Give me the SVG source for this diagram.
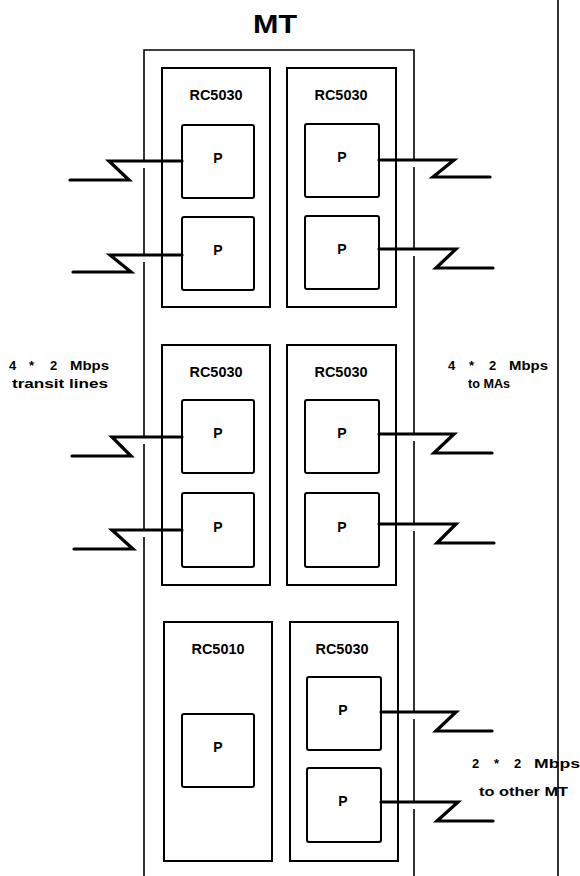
<svg xmlns="http://www.w3.org/2000/svg" width="580" height="876" viewBox="0 0 580 876">
<style>
.bg{fill:#fff}
.rc{fill:none;stroke:#000;stroke-width:2}
.p{fill:none;stroke:#000;stroke-width:2}
.mt{fill:none;stroke:#000;stroke-width:1.6}
.cn{fill:none;stroke:#000;stroke-width:3.2;stroke-linejoin:miter;stroke-linecap:round}
text{font-family:"Liberation Sans",Arial,sans-serif;font-weight:bold;fill:#000}
.lbl{font-size:14px;text-anchor:middle}
.pl{font-size:14px;text-anchor:middle}
.t{font-size:13px}
</style>
<rect class="bg" x="0" y="0" width="580" height="876"/>
<text x="275" y="33" font-size="26" text-anchor="middle" textLength="44" lengthAdjust="spacingAndGlyphs">MT</text>
<g id="mt-frame">
<path class="mt" d="M144,876 V537 M144,530 V444 M144,437 V262 M144,255 V168 M144,161 V50 H414 V160 M414,167 V249 M414,256 V434 M414,441 V524 M414,531 V712 M414,719 V802 M414,809 V876"/>
</g>
<line class="mt" x1="558" y1="0" x2="558" y2="876"/>
<g id="rc-top-left">
<rect class="rc" x="162" y="68" width="108" height="239"/>
<text class="lbl" x="216" y="100" textLength="53" lengthAdjust="spacingAndGlyphs">RC5030</text>
</g>
<g id="p-tl-1"><rect class="p" x="182" y="125" width="72" height="73" rx="2"/><text class="pl" x="218" y="163">P</text></g>
<g id="p-tl-2"><rect class="p" x="182" y="217" width="72" height="73" rx="2"/><text class="pl" x="218" y="255">P</text></g>
<g id="rc-top-right">
<rect class="rc" x="287" y="68" width="109" height="239"/>
<text class="lbl" x="341" y="100" textLength="53" lengthAdjust="spacingAndGlyphs">RC5030</text>
</g>
<g id="p-tr-1"><rect class="p" x="305" y="124" width="74" height="73" rx="2"/><text class="pl" x="342" y="162">P</text></g>
<g id="p-tr-2"><rect class="p" x="305" y="216" width="74" height="73" rx="2"/><text class="pl" x="342" y="254">P</text></g>
<g id="rc-mid-left">
<rect class="rc" x="162" y="345" width="108" height="240"/>
<text class="lbl" x="216" y="377" textLength="53" lengthAdjust="spacingAndGlyphs">RC5030</text>
</g>
<g id="p-ml-1"><rect class="p" x="182" y="400" width="72" height="73" rx="2"/><text class="pl" x="218" y="438">P</text></g>
<g id="p-ml-2"><rect class="p" x="182" y="493" width="72" height="74" rx="2"/><text class="pl" x="218" y="532">P</text></g>
<g id="rc-mid-right">
<rect class="rc" x="287" y="345" width="109" height="240"/>
<text class="lbl" x="341" y="377" textLength="53" lengthAdjust="spacingAndGlyphs">RC5030</text>
</g>
<g id="p-mr-1"><rect class="p" x="305" y="400" width="74" height="73" rx="2"/><text class="pl" x="342" y="438">P</text></g>
<g id="p-mr-2"><rect class="p" x="305" y="493" width="74" height="74" rx="2"/><text class="pl" x="342" y="532">P</text></g>
<g id="rc-bot-left">
<rect class="rc" x="164" y="622" width="108" height="239"/>
<text class="lbl" x="218" y="654" textLength="53" lengthAdjust="spacingAndGlyphs">RC5010</text>
</g>
<g id="p-bl"><rect class="p" x="182" y="714" width="72" height="73" rx="2"/><text class="pl" x="218" y="752">P</text></g>
<g id="rc-bot-right">
<rect class="rc" x="290" y="622" width="108" height="239"/>
<text class="lbl" x="342" y="654" textLength="53" lengthAdjust="spacingAndGlyphs">RC5030</text>
</g>
<g id="p-br-1"><rect class="p" x="307" y="677" width="74" height="73" rx="2"/><text class="pl" x="343" y="715">P</text></g>
<g id="p-br-2"><rect class="p" x="307" y="768" width="74" height="74" rx="2"/><text class="pl" x="343" y="806">P</text></g>
<g id="connectors">
<path class="cn" d="M182,161 H109 L129,180 H70"/>
<path class="cn" d="M182,255 H110 L131,272 H73"/>
<path class="cn" d="M182,437 H112 L131,456 H72"/>
<path class="cn" d="M182,530 H112 L133,549 H74"/>
<path class="cn" d="M379,160 H454 L433,177 H490"/>
<path class="cn" d="M379,249 H456 L436,268 H493"/>
<path class="cn" d="M379,434 H454 L434,453 H492"/>
<path class="cn" d="M379,524 H456 L437,543 H494"/>
<path class="cn" d="M381,712 H456 L436,731 H492"/>
<path class="cn" d="M381,802 H458 L437,821 H493"/>
</g>
<g id="labels">
<text class="t" y="370"><tspan x="9">4</tspan><tspan x="29">*</tspan><tspan x="50">2</tspan><tspan x="70" textLength="39" lengthAdjust="spacingAndGlyphs">Mbps</tspan></text>
<text class="t" x="12" y="388" textLength="96" lengthAdjust="spacingAndGlyphs">transit lines</text>
<text class="t" y="370"><tspan x="448">4</tspan><tspan x="469">*</tspan><tspan x="489">2</tspan><tspan x="509" textLength="39" lengthAdjust="spacingAndGlyphs">Mbps</tspan></text>
<text class="t" x="468" y="388" textLength="42" lengthAdjust="spacingAndGlyphs">to MAs</text>
<text class="t" y="768"><tspan x="472">2</tspan><tspan x="494">*</tspan><tspan x="514">2</tspan><tspan x="534" textLength="46" lengthAdjust="spacingAndGlyphs">Mbps</tspan></text>
<text class="t" x="479" y="796" textLength="89" lengthAdjust="spacingAndGlyphs">to other MT</text>
</g>
</svg>
